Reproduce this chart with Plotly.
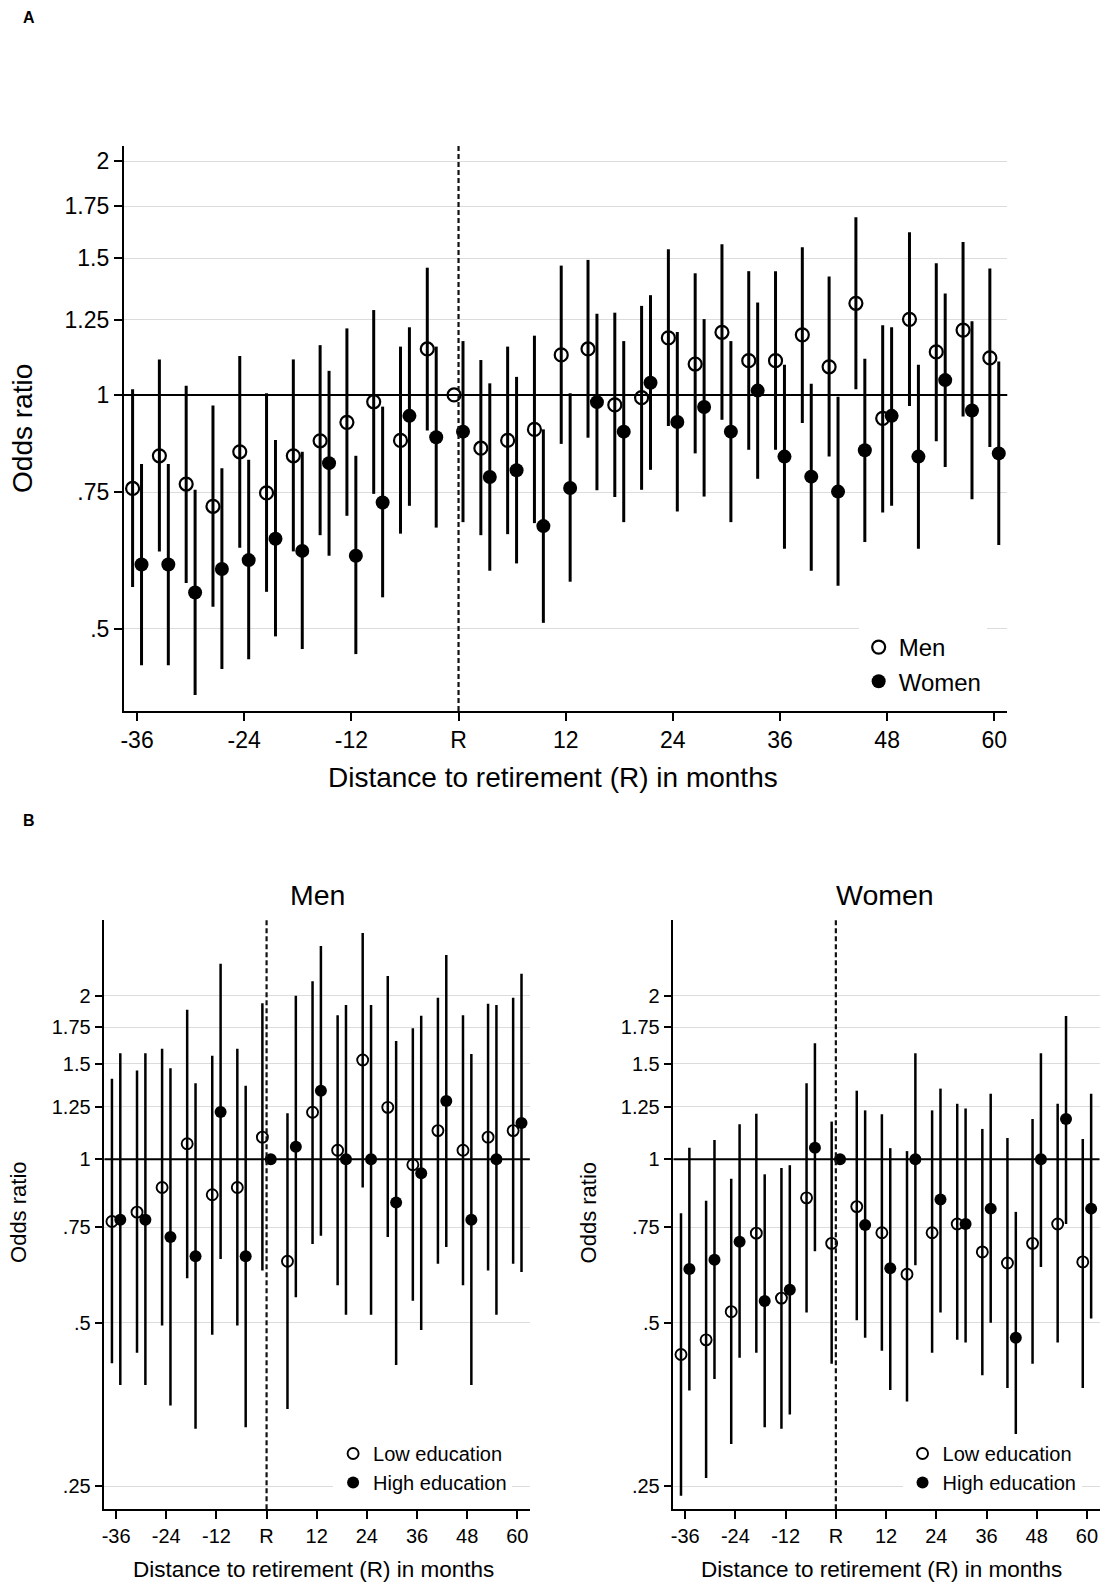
import math
import plotly.graph_objects as go

# ---------------- Panel A data (3-month steps) ----------------
months_a = list(range(-36, 61, 3))
men_or = [0.758, 0.835, 0.768, 0.719, 0.845, 0.748, 0.835, 0.873, 0.922, 0.980, 0.874, 1.146,
          1.000, 0.854, 0.874, 0.903, 1.126, 1.146, 0.971, 0.992, 1.184, 1.096, 1.204, 1.107,
          1.107, 1.195, 1.087, 1.312, 0.933, 1.251, 1.136, 1.212, 1.116]
men_lo = [0.566, 0.629, 0.573, 0.534, 0.636, 0.558, 0.629, 0.660, 0.699, 0.746, 0.663, 0.900,
          None, 0.660, 0.662, 0.684, 0.865, 0.881, 0.739, 0.755, 0.912, 0.841, 0.929, 0.850,
          0.850, 0.920, 0.833, 1.017, 0.706, 0.968, 0.872, 0.938, 0.857]
men_hi = [1.017, 1.111, 1.028, 0.969, 1.122, 1.005, 1.111, 1.159, 1.218, 1.286, 1.154, 1.458,
          None, 1.109, 1.154, 1.192, 1.467, 1.492, 1.276, 1.302, 1.540, 1.434, 1.563, 1.443,
          1.443, 1.549, 1.420, 1.693, 1.229, 1.619, 1.477, 1.573, 1.455]
women_or = [0.605, 0.605, 0.557, 0.597, 0.613, 0.653, 0.630, 0.817, 0.621, 0.727, 0.940, 0.882,
            0.897, 0.784, 0.800, 0.678, 0.759, 0.979, 0.897, 1.037, 0.923, 0.965, 0.897, 1.013,
            0.833, 0.785, 0.751, 0.849, 0.940, 0.833, 1.045, 0.955, 0.841]
women_lo = [0.449, 0.449, 0.411, 0.444, 0.457, 0.489, 0.471, 0.621, 0.464, 0.549, 0.720, 0.675,
            0.686, 0.594, 0.607, 0.509, 0.575, 0.754, 0.686, 0.801, 0.708, 0.740, 0.686, 0.780,
            0.634, 0.594, 0.568, 0.647, 0.720, 0.634, 0.808, 0.734, 0.641]
women_hi = [0.815, 0.815, 0.755, 0.805, 0.825, 0.875, 0.845, 1.074, 0.835, 0.966, 1.222, 1.154,
            1.173, 1.035, 1.055, 0.903, 1.005, 1.272, 1.173, 1.344, 1.205, 1.252, 1.173, 1.315,
            1.094, 1.034, 0.995, 1.113, 1.222, 1.094, 1.351, 1.244, 1.104]

# ---------------- Panel B data (6-month steps) ----------------
months_b = list(range(-36, 61, 6))
m_low_or = [0.768, 0.799, 0.887, 1.068, 0.860, 0.887, 1.098, 0.649, 1.220, 1.039, 1.523, 1.246,
            0.977, 1.129, 1.039, 1.098, 1.129]
m_low_lo = [0.421, 0.440, 0.494, 0.604, 0.475, 0.494, 0.624, 0.347, 0.698, 0.586, 0.887, 0.719,
            0.549, 0.642, 0.586, 0.624, 0.642]
m_low_hi = [1.407, 1.456, 1.598, 1.885, 1.551, 1.598, 1.937, 1.215, 2.126, 1.841, 2.609, 2.174,
            1.742, 1.983, 1.841, 1.934, 1.983]
m_high_or = [0.774, 0.774, 0.719, 0.663, 1.222, 0.663, 1.000, 1.054, 1.337, 1.000, 1.000, 0.832,
             0.942, 1.280, 0.774, 1.000, 1.166]
m_high_lo = [0.384, 0.384, 0.352, 0.319, 0.655, 0.321, None, 0.557, 0.723, 0.517, 0.517, 0.418,
             0.485, 0.689, 0.384, 0.517, 0.620]
m_high_hi = [1.567, 1.567, 1.470, 1.380, 2.290, 1.366, None, 2.000, 2.469, 1.923, 1.923, 1.651,
             1.838, 2.377, 1.562, 1.923, 2.196]
w_low_or = [0.437, 0.465, 0.524, 0.731, 0.555, 0.849, 0.700, 0.818, 0.732, 0.614, 0.732, 0.760,
            0.675, 0.644, 0.700, 0.760, 0.647]
w_low_lo = [0.240, 0.259, 0.299, 0.440, 0.319, 0.522, 0.420, 0.505, 0.444, 0.358, 0.440, 0.465,
            0.400, 0.379, 0.420, 0.460, 0.379]
w_low_hi = [0.795, 0.839, 0.921, 1.212, 0.963, 1.380, 1.173, 1.337, 1.210, 1.035, 1.230, 1.265,
            1.137, 1.094, 1.186, 1.265, 1.090]
w_high_or = [0.628, 0.653, 0.705, 0.548, 0.575, 1.050, 1.000, 0.757, 0.630, 1.000, 0.843, 0.760,
             0.811, 0.469, 1.000, 1.186, 0.811]
w_high_lo = [0.375, 0.394, 0.431, 0.321, 0.339, 0.677, None, 0.469, 0.376, 0.638, 0.522, 0.460,
             0.500, 0.280, 0.633, 0.760, 0.509]
w_high_hi = [1.050, 1.085, 1.160, 0.938, 0.975, 1.635, None, 1.230, 1.048, 1.567, 1.349, 1.240,
             1.320, 0.800, 1.567, 1.835, 1.320]

xtick_vals = [-36, -24, -12, 0, 12, 24, 36, 48, 60]
xtick_text = ["-36", "-24", "-12", "R", "12", "24", "36", "48", "60"]
ytick_vals_a = [0.5, 0.75, 1, 1.25, 1.5, 1.75, 2]
ytick_text_a = [".5", ".75", "1", "1.25", "1.5", "1.75", "2"]
ytick_vals_b = [0.25, 0.5, 0.75, 1, 1.25, 1.5, 1.75, 2]
ytick_text_b = [".25", ".5", ".75", "1", "1.25", "1.5", "1.75", "2"]

FONT = "Liberation Sans, Arial, Helvetica, sans-serif"
W, H = 1102, 1583


def errs(vals, lo, hi):
    up = [(h - v) if h is not None else 0 for v, h in zip(vals, hi)]
    dn = [(v - l) if l is not None else 0 for v, l in zip(vals, lo)]
    return up, dn


def add_series(fig, months, offset, vals, lo, hi, name, filled, xa, ya, legend,
               size, lw, thick):
    up, dn = errs(vals, lo, hi)
    marker = dict(color="black", size=size,
                  symbol="circle" if filled else "circle-open",
                  line=dict(color="black", width=0 if filled else lw))
    fig.add_trace(go.Scatter(
        x=[m + offset for m in months], y=vals, mode="markers", name=name,
        marker=marker, xaxis=xa, yaxis=ya, legend=legend,
        error_y=dict(type="data", symmetric=False, array=up, arrayminus=dn,
                     color="black", thickness=thick, width=0),
        hoverinfo="skip"))


fig = go.Figure()
add_series(fig, months_a, -0.5, men_or, men_lo, men_hi, "Men", False, "x", "y", "legend", 13, 2.2, 3)
add_series(fig, months_a, 0.5, women_or, women_lo, women_hi, "Women", True, "x", "y", "legend", 14, 2, 3)
add_series(fig, months_b, -1, m_low_or, m_low_lo, m_low_hi, "Low education", False, "x2", "y2", "legend2", 11, 1.9, 2.5)
add_series(fig, months_b, 1, m_high_or, m_high_lo, m_high_hi, "High education", True, "x2", "y2", "legend2", 12, 1.9, 2.5)
add_series(fig, months_b, -1, w_low_or, w_low_lo, w_low_hi, "Low education", False, "x3", "y3", "legend3", 11, 1.9, 2.5)
add_series(fig, months_b, 1, w_high_or, w_high_lo, w_high_hi, "High education", True, "x3", "y3", "legend3", 12, 1.9, 2.5)


def px_x(p):
    return p / W


def px_y(p):
    return 1 - p / H


def xaxis_cfg(domain, rng, fs, anchor):
    return dict(domain=domain, range=rng, anchor=anchor, tickvals=xtick_vals, ticktext=xtick_text,
                showline=True, linecolor="black", linewidth=1.5, ticks="outside", ticklen=8,
                tickwidth=1.5, tickcolor="black", showgrid=False, zeroline=False,
                tickfont=dict(size=fs, color="black", family=FONT), fixedrange=True)


def yaxis_cfg(domain, lo, hi, tv, tt, fs, anchor):
    return dict(domain=domain, type="log", range=[math.log10(lo), math.log10(hi)], anchor=anchor,
                tickvals=tv, ticktext=tt, showline=True, linecolor="black", linewidth=1.5,
                ticks="outside", ticklen=8, tickwidth=1.5, tickcolor="black",
                showgrid=True, gridcolor="#dcdcdc", gridwidth=1, zeroline=False,
                tickfont=dict(size=fs, color="black", family=FONT), fixedrange=True)


fig.update_layout(
    width=W, height=H, margin=dict(l=0, r=0, t=0, b=0),
    paper_bgcolor="white", plot_bgcolor="white",
    font=dict(family=FONT, color="black"),
    xaxis=xaxis_cfg([px_x(121), px_x(1007)], [-37.5, 61.45], 23, "y"),
    yaxis=yaxis_cfg([px_y(711), px_y(146)], 0.392, 2.091, ytick_vals_a, ytick_text_a, 23, "x"),
    xaxis2=xaxis_cfg([px_x(101.7), px_x(528.3)], [-38.8, 63], 20, "y2"),
    yaxis2=yaxis_cfg([px_y(1509.3), px_y(920)], 0.2267, 2.757, ytick_vals_b, ytick_text_b, 20, "x2"),
    xaxis3=xaxis_cfg([px_x(672.3), px_x(1099.5)], [-38.8, 63], 20, "y3"),
    yaxis3=yaxis_cfg([px_y(1509.3), px_y(920)], 0.2267, 2.757, ytick_vals_b, ytick_text_b, 20, "x3"),
    legend=dict(x=px_x(858), y=px_y(625), xanchor="left", yanchor="top", bgcolor="white",
                font=dict(size=24, family=FONT), itemwidth=30),
    legend2=dict(x=px_x(331), y=px_y(1434), xanchor="left", yanchor="top", bgcolor="white",
                 font=dict(size=20, family=FONT), itemwidth=30),
    legend3=dict(x=px_x(902), y=px_y(1434), xanchor="left", yanchor="top", bgcolor="white",
                 font=dict(size=20, family=FONT), itemwidth=30),
)

shapes = []
for xa, ya in [("x", "y"), ("x2", "y2"), ("x3", "y3")]:
    shapes.append(dict(type="line", xref=xa + " domain", yref=ya, x0=0, x1=1, y0=1, y1=1,
                       line=dict(color="black", width=2)))
    shapes.append(dict(type="line", xref=xa, yref=ya + " domain", x0=0, x1=0, y0=0, y1=1,
                       line=dict(color="#111111", width=2.2, dash="5px,3px")))
fig.update_layout(shapes=shapes)

ann = []


def text(x, y, s, size, bold=False, angle=0):
    ann.append(dict(x=px_x(x), y=px_y(y), xref="paper", yref="paper", text=("<b>%s</b>" % s) if bold else s,
                    showarrow=False, xanchor="center", yanchor="middle", textangle=angle,
                    font=dict(size=size, family=FONT, color="black")))


text(26, 18, "A", 16, bold=True)
text(26, 820, "B", 16, bold=True)
text(20, 428, "Odds ratio", 28, angle=-90)
text(551, 778, "Distance to retirement (R) in months", 28)
text(315, 895, "Men", 28.5)
text(884, 895, "Women", 28.5)
text(15, 1212, "Odds ratio", 22, angle=-90)
text(587, 1212, "Odds ratio", 22, angle=-90)
text(311, 1569, "Distance to retirement (R) in months", 22.5)
text(881, 1569, "Distance to retirement (R) in months", 22.5)
fig.update_layout(annotations=ann)

fig.write_html("out.html", config={"displayModeBar": False},
               post_script="document.body.style.margin='0px';document.body.style.padding='0px';")
